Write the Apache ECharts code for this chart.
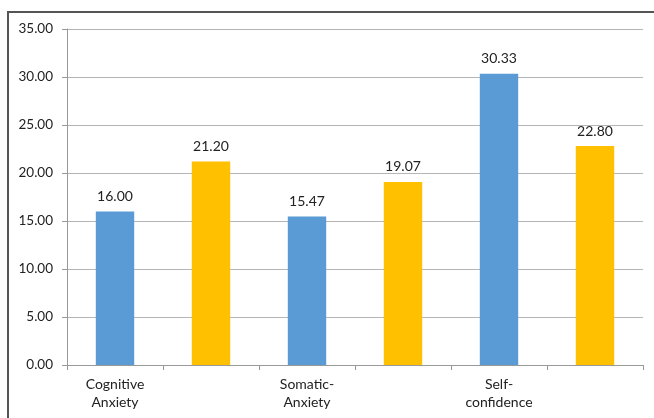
<!DOCTYPE html>
<html>
<head>
<meta charset="utf-8">
<script src="https://cdn.jsdelivr.net/npm/echarts@6/dist/echarts.min.js"></script>
<style>
html,body{margin:0;padding:0;background:#fff;}
#frame{position:absolute;left:7px;top:11px;width:700px;height:500px;border-left:2px solid #555;border-top:2px solid #555;box-sizing:border-box;}
#chart{position:absolute;left:0;top:0;width:654px;height:418px;}
</style>
</head>
<body>
<div id="frame"></div>
<div id="chart"></div>
<script>
var groups = ['Cognitive\nAnxiety', 'Somatic-\nAnxiety', 'Self-\nconfidence'];
var firstValues = [16.00, 15.47, 30.33];
var secondValues = [21.20, 19.07, 22.80];
var yTicks = [0, 5, 10, 15, 20, 25, 30, 35];

var categories = [];
var barData = [];
var blue = '#5B9BD5', gold = '#FFC000';
for (var i = 0; i < groups.length; i++) {
  categories.push(groups[i]);
  barData.push({value: firstValues[i], itemStyle: {color: blue}});
  categories.push('');
  barData.push({value: secondValues[i], itemStyle: {color: gold}});
}

var font = 'Lato, "Open Sans", sans-serif';
var chart = echarts.init(document.getElementById('chart'), null, {renderer: 'canvas'});
chart.setOption({
  animation: false,
  backgroundColor: 'transparent',
  grid: {left: 67, right: 11, top: 29, bottom: 53, containLabel: false},
  xAxis: {
    type: 'category',
    data: categories,
    boundaryGap: true,
    axisLine: {show: true, lineStyle: {color: '#999', width: 1}},
    axisTick: {show: true, interval: 0, length: 5, lineStyle: {color: '#999'}},
    axisLabel: {interval: 0, margin: 10, color: '#222', fontSize: 14, fontFamily: font, lineHeight: 18}
  },
  yAxis: {
    type: 'value',
    min: yTicks[0],
    max: yTicks[yTicks.length - 1],
    interval: 5,
    axisLine: {show: true, lineStyle: {color: '#999', width: 1}},
    axisTick: {show: true, length: 5, lineStyle: {color: '#999'}},
    splitLine: {show: true, lineStyle: {color: '#b5b5b5', width: 1}},
    axisLabel: {margin: 14, color: '#222', fontSize: 13.5, fontFamily: font,
      formatter: function (v) { return v.toFixed(2); }}
  },
  series: [{
    type: 'bar',
    data: barData,
    barWidth: '40%',
    label: {
      show: true, position: 'top', distance: 8,
      color: '#222', fontSize: 14, fontFamily: font,
      formatter: function (p) { return p.value.toFixed(2); }
    }
  }]
});
</script>
</body>
</html>
